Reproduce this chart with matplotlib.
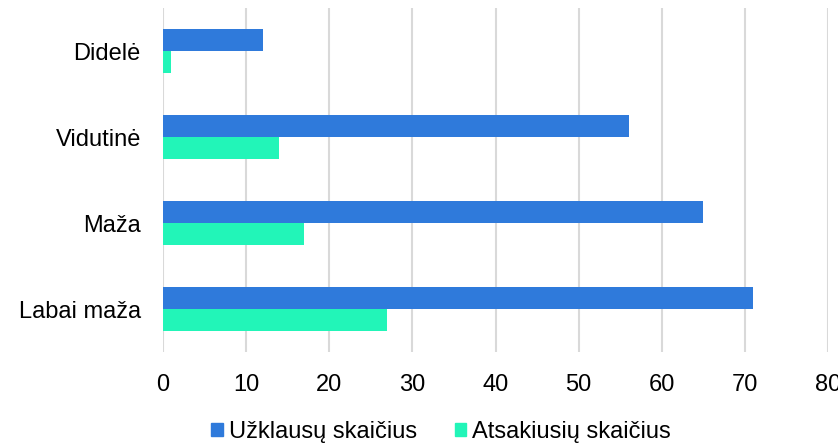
import matplotlib
matplotlib.use("Agg")
import matplotlib.pyplot as plt
import numpy as np
from matplotlib.patches import Patch

categories = ["Didelė", "Vidutinė", "Maža", "Labai maža"]
series_names = ["Užklausų skaičius", "Atsakiusių skaičius"]
uzklausu = [12, 56, 65, 71]
atsakiusiu = [1, 14, 17, 27]
xticks = [0, 10, 20, 30, 40, 50, 60, 70, 80]

colors = ["#2F7ADB", "#22F5B8"]

plt.rcParams['font.family'] = ['Liberation Sans', 'DejaVu Sans']

fig = plt.figure(figsize=(8.38, 4.45), dpi=100)
ax = fig.add_axes([163/838, 1-352/445, (828-163)/838, (352-8)/445])

y = np.arange(len(categories))
h = 0.256
ax.barh(y - h/2, uzklausu, height=h, color=colors[0], zorder=3)
ax.barh(y + h/2, atsakiusiu, height=h, color=colors[1], zorder=3)

ax.set_ylim(len(categories) - 0.5, -0.5)
ax.set_xlim(0, 80)
ax.set_xticks(xticks)
ax.set_yticks(y)
ax.set_yticklabels(categories)
ax.grid(axis='x', color='#D9D9D9', linewidth=1.5, zorder=0)
ax.grid(axis='y', visible=False)
for s in ax.spines.values():
    s.set_visible(False)
ax.tick_params(length=0, labelsize=17, colors='#000000')
ax.tick_params(axis='x', pad=16)
ax.tick_params(axis='y', pad=16)

handles = [Patch(color=colors[0]), Patch(color=colors[1])]
fig.legend(handles, series_names, loc='center', bbox_to_anchor=(441/838, 1-432/445),
           ncol=2, frameon=False, fontsize=17, handlelength=0.5, handleheight=0.5,
           handletextpad=0.25, columnspacing=1.6)

fig.savefig("out.png", dpi=100)
